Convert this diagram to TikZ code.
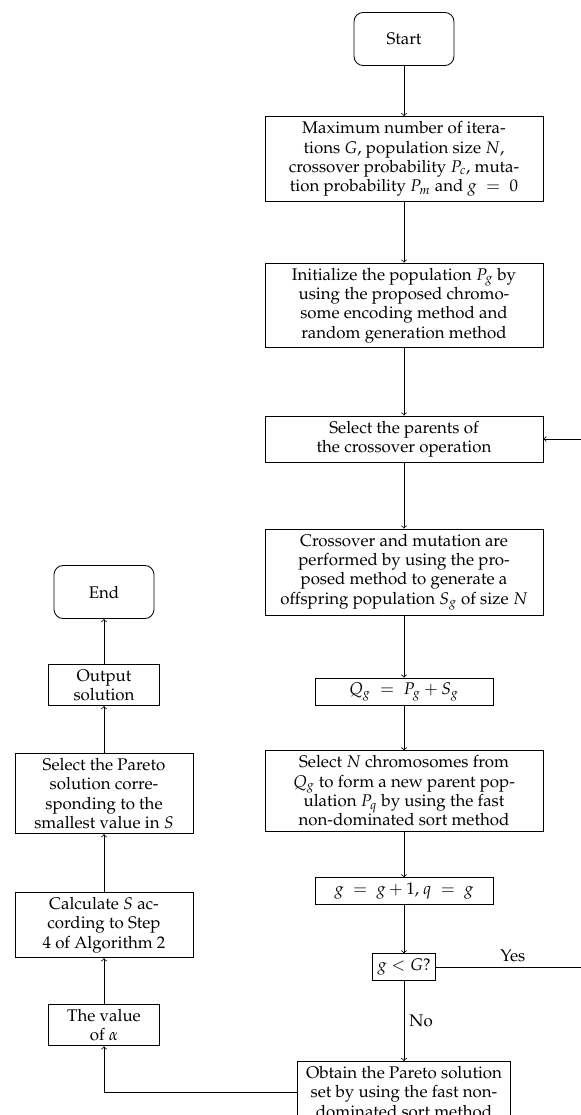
\documentclass[tikz,border=0pt]{standalone}
\usepackage[T1]{fontenc}
\usepackage{mathpazo}
\begin{document}
\begin{tikzpicture}[x=0.652pt,y=-0.652pt,
  every node/.style={font=\fontsize{11pt}{12.6pt}\selectfont},
  box/.style={draw, line width=0.55pt, align=center, inner xsep=3pt, inner ysep=3.2pt},
  wide/.style={box, minimum width=181.3pt},
  midbox/.style={box, minimum width=116.1pt},
  narrow/.style={box, minimum width=72.4pt},
  pareto/.style={box, minimum width=138.9pt},
  term/.style={draw, line width=0.55pt, rounded corners=6pt, minimum width=65.2pt, minimum height=34.6pt},
  flow/.style={->, line width=0.5pt}]
\useasboundingbox (0,0) rectangle (581,1115);
\clip (0,0) rectangle (581,1115);
% right column
\node[term] (start) at (404,39) {Start};
\node[wide] (p1) at (404,159) {Maximum number of itera-\\tions $G$, population size $N$,\\crossover probability $P_c$, muta-\\tion probability $P_m$ and $g\;=\;0$};
\node[wide] (p2) at (404,305.5) {Initialize the population $P_g$ by\\using the proposed chromo-\\some encoding method and\\random generation method};
\node[wide] (p3) at (404,439) {Select the parents of\\the crossover operation};
\node[wide] (p4) at (404,572) {Crossover and mutation are\\performed by using the pro-\\posed method to generate a\\offspring population $S_g$ of size $N$};
\node[midbox] (p5) at (404,692) {$Q_g\;=\;P_g + S_g$};
\node[wide] (p6) at (404,791) {Select $N$ chromosomes from\\$Q_g$ to form a new parent pop-\\ulation $P_q$ by using the fast\\non-dominated sort method};
\node[midbox] (p7) at (404,891) {$g\;=\;g+1$, $q\;=\;g$};
\node[box] (p8) at (404,967) {$g<G$?};
\node[pareto] (p9) at (404,1092) {Obtain the Pareto solution\\set by using the fast non-\\dominated sort method};
% left column
\node[narrow] (a1) at (104,1025) {The value\\of $\alpha$};
\node[midbox] (a2) at (104,925) {Calculate $S$ ac-\\cording to Step\\4 of Algorithm 2};
\node[midbox] (a3) at (104,793.5) {Select the Pareto\\solution corre-\\sponding to the\\smallest value in $S$};
\node[narrow] (a4) at (104,685) {Output\\solution};
\node[term] (end) at (104,592) {End};
\coordinate (rt) at (590,967);
\coordinate (lb) at (104,1092);
% connectors
\draw[flow] (start) -- (p1);
\draw[flow] (p1) -- (p2);
\draw[flow] (p2) -- (p3);
\draw[flow] (p3) -- (p4);
\draw[flow] (p4) -- (p5);
\draw[flow] (p5) -- (p6);
\draw[flow] (p6) -- (p7);
\draw[flow] (p7) -- (p8);
\draw[flow] (p8) -- node[right] {No} (p9);
\draw[flow] (p8.east) -- node[above] {Yes} (rt) |- (p3.east);
\draw[flow] (p9.west) -- (lb) -- (a1.south);
\draw[flow] (a1) -- (a2);
\draw[flow] (a2) -- (a3);
\draw[flow] (a3) -- (a4);
\draw[flow] (a4) -- (end);
\end{tikzpicture}
\end{document}
